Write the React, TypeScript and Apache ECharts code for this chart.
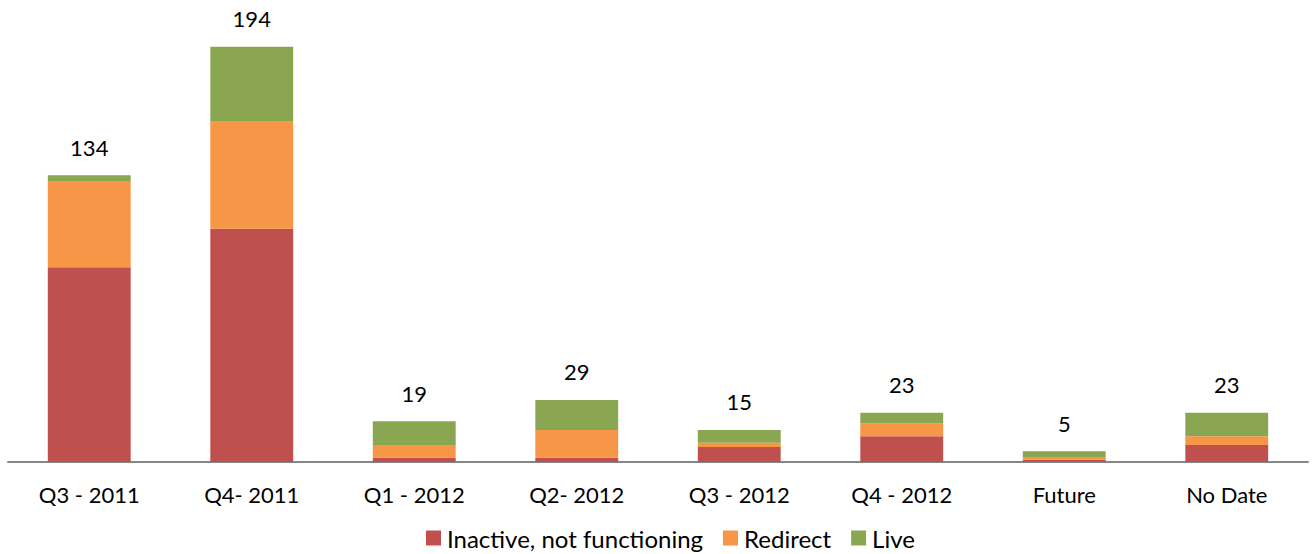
import React, { useEffect, useRef } from "react";
import * as echarts from "echarts";

const categories = ["Q3 - 2011", "Q4- 2011", "Q1 - 2012", "Q2- 2012", "Q3 - 2012", "Q4 - 2012", "Future", "No Date"];
const inactive = [91, 109, 2, 2, 7, 12, 1, 8];
const redirect = [40, 50, 6, 13, 2, 6, 1, 4];
const live = [3, 35, 11, 14, 6, 5, 3, 11];
const totals = [134, 194, 19, 29, 15, 23, 5, 23];

const FONT = "Lato, 'Open Sans', sans-serif";

export default function App() {
  const ref = useRef<HTMLDivElement>(null);
  useEffect(() => {
    if (!ref.current) return;
    const chart = echarts.init(ref.current, undefined, { renderer: "svg" });
    chart.setOption({
      animation: false,
      backgroundColor: "#ffffff",
      textStyle: { fontFamily: FONT },
      grid: { left: 8, right: 8, top: 34, bottom: 92, containLabel: false },
      legend: {
        top: 524,
        left: 421,
        padding: [2, 5, 2, 5],
        itemWidth: 15,
        itemHeight: 15,
        itemGap: 20,
        icon: "rect",
        textStyle: { fontSize: 24, color: "#000", fontFamily: FONT, padding: [0, 0, 0, 1] },
        data: ["Inactive, not functioning", "Redirect", "Live"],
      },
      xAxis: {
        type: "category",
        data: categories,
        axisLine: { lineStyle: { color: "#868686", width: 2 } },
        axisTick: { show: false },
        axisLabel: { color: "#000", fontSize: 22, margin: 21, fontFamily: FONT, interval: 0 },
      },
      yAxis: {
        type: "value",
        min: 0,
        max: 200,
        show: false,
        splitLine: { show: false },
      },
      series: [
        {
          name: "Inactive, not functioning",
          type: "bar",
          stack: "s",
          data: inactive,
          barWidth: "51%",
          itemStyle: { color: "#C0504D" },
        },
        {
          name: "Redirect",
          type: "bar",
          stack: "s",
          data: redirect,
          itemStyle: { color: "#F79646" },
        },
        {
          name: "Live",
          type: "bar",
          stack: "s",
          data: live,
          itemStyle: { color: "#8BA650" },
          label: {
            show: true,
            position: "top",
            distance: 17,
            color: "#000",
            fontSize: 22,
            fontFamily: FONT,
            formatter: (p: any) => String(totals[p.dataIndex]),
          },
        },
      ],
    });
    return () => chart.dispose();
  }, []);
  return (
    <div
      ref={ref}
      style={{ position: "fixed", left: 0, top: 0, width: 1316, height: 554, background: "#fff" }}
    />
  );
}
